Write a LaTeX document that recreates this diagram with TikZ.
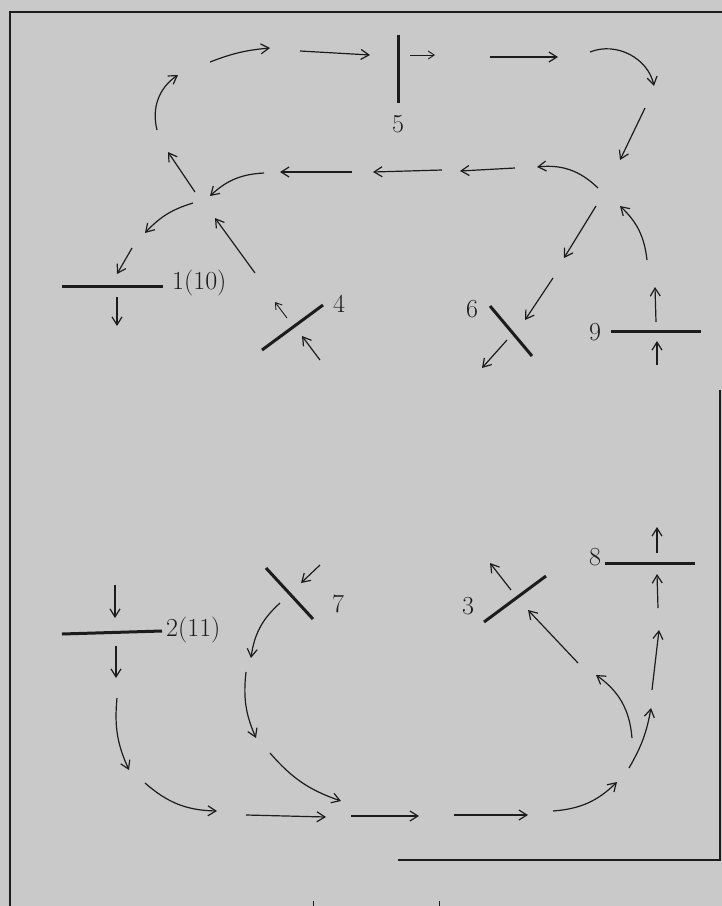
\documentclass[tikz,border=0pt]{standalone}
\usepackage{fontspec}
\usepackage{tikz}
\usetikzlibrary{arrows.meta}
\definecolor{paper}{RGB}{201,201,201}
\definecolor{ink}{RGB}{28,28,28}

\begin{document}
\begin{tikzpicture}[x=1pt, y=-1pt, >={Straight Barb[length=8pt,width=10pt]},
    ray/.style={->, draw=ink, line width=1.2pt},
    smallray/.style={ray, line width=0.9pt, >={Straight Barb[length=6pt,width=8pt]}},
    mirror/.style={draw=ink, line width=3pt},
    frame/.style={draw=ink, line width=1.6pt},
    lbl/.style={text=ink, inner sep=0pt, font=\fontsize{26}{30}\selectfont}]
      \useasboundingbox[fill=paper] (0,0) rectangle (722,906);

      % Frame
      \draw[frame] (722,12) -- (10,12) -- (10,906);
      \draw[frame] (720,390) -- (720,860) -- (398,860);
      \draw[ink, line width=0.7pt] (313,901) -- (313,906) (439,901) -- (439,906);

      % Mirrors
      \draw[mirror] (398,35) -- (398,103);
      \node[lbl] (m5) at (398,124) {5};
      \draw[mirror] (62,286) -- (163,286);
      \node[lbl, anchor=west] (m1) at (172,283) {1(10)};
      \draw[mirror] (262,350) -- (323,305);
      \node[lbl] (m4) at (339,304) {4};
      \draw[mirror] (490,306) -- (532,356);
      \node[lbl] (m6) at (472,309) {6};
      \draw[mirror] (611,331) -- (701,331);
      \node[lbl] (m9) at (595,332) {9};
      \draw[mirror] (62,634) -- (162,631);
      \node[lbl, anchor=west] (m2) at (166,630) {2(11)};
      \draw[mirror] (266,568) -- (313,619);
      \node[lbl] (m7) at (338,604) {7};
      \draw[mirror] (484,622) -- (546,576);
      \node[lbl] (m3) at (468,606) {3};
      \draw[mirror] (605,563) -- (695,563);
      \node[lbl] (m8) at (595,557) {8};

      % Upper loop, over mirror 5
      \draw[ray] (157,130) to[bend left=35] (178,75);
      \draw[ray] (210,62) to[bend left=8] (270,48);
      \draw[ray] (300,51) -- (370,55);
      \draw[smallray] (410,55) -- (435,55);
      \draw[ray] (490,57) -- (558,57);
      \draw[ray] (590,52) to[bend left=50] (654,86);
      \draw[ray] (645,108) -- (620,160);
      \draw[ray] (598,188) to[bend right=25] (537,167);
      \draw[ray] (515,168) -- (460,171);
      \draw[ray] (442,170) -- (373,172);
      \draw[ray] (352,172) -- (280,172);
      \draw[ray] (264,173) to[bend right=20] (210,196);
      \draw[ray] (195,192) -- (168,152);

      % Towards mirror 1(10), from mirror 4
      \draw[ray] (193,203) to[bend right=15] (145,233);
      \draw[ray] (132,248) -- (117,274);
      \draw[ray] (117,297) -- (117,326);
      \draw[ray] (255,273) -- (215,218);
      \draw[smallray] (287,318) -- (275,302);
      \draw[ray] (320,360) -- (302,336);

      % Towards mirror 6, from mirror 9
      \draw[ray] (596,206) -- (564,258);
      \draw[ray] (553,278) -- (525,320);
      \draw[ray] (507,340) -- (482,368);
      \draw[ray] (647,260) to[bend right=20] (620,206);
      \draw[ray] (656,322) -- (655,287);
      \draw[ray] (657,365) -- (657,341);

      % Lower loop, from mirrors 2(11) and 7
      \draw[ray] (115,585) -- (115,618);
      \draw[ray] (116,646) -- (116,678);
      \draw[ray] (117,698) to[bend right=15] (129,770);
      \draw[ray] (320,565) -- (301,583);
      \draw[ray] (280,603) to[bend right=20] (251,658);
      \draw[ray] (246,672) to[bend right=15] (256,738);
      \draw[ray] (145,783) to[bend right=20] (217,811);
      \draw[ray] (270,753) to[bend right=15] (341,801);
      \draw[ray] (246,815) -- (326,817);
      \draw[ray] (351,816) -- (419,816);
      \draw[ray] (454,815) -- (528,815);
      \draw[ray] (553,811) to[bend right=20] (617,782);

      % Up to mirrors 3 and 8
      \draw[ray] (629,768) to[bend right=10] (651,708);
      \draw[ray] (632,738) to[bend right=25] (596,675);
      \draw[ray] (578,663) -- (528,610);
      \draw[ray] (511,590) -- (490,563);
      \draw[ray] (652,690) -- (659,630);
      \draw[ray] (658,608) -- (657,574);
      \draw[ray] (657,553) -- (657,527);
\end{tikzpicture}
\end{document}
